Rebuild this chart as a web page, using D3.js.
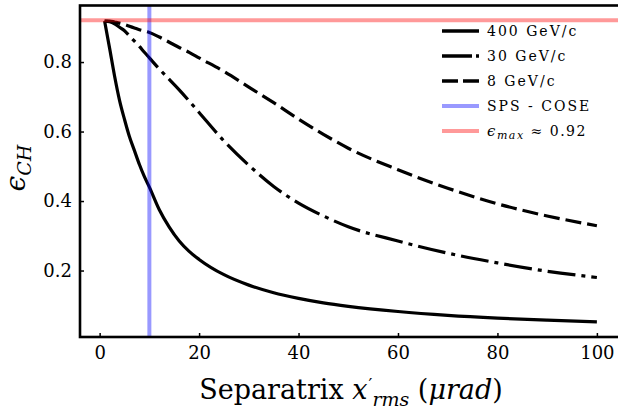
<!DOCTYPE html>
<html>
<script src='https://d3js.org/d3.v7.min.js'></script>
<style>
 body {margin:0; background:white;}
 text {font-family: 'DejaVu Serif', serif; fill: black;}
</style>
<body onload='init()'>
<svg width=618 height=412>
</svg>
<script>

// separatrix divergence (urad) and channeling efficiency per beam energy
const xVals = [1,2,3,4,5,6,7,8,9,10,12,14,16,18,20,25,30,35,40,45,50,60,70,80,90,100];
const e400 = [0.918,0.84,0.76,0.69,0.635,0.585,0.545,0.505,0.47,0.44,0.375,0.325,0.285,0.255,0.232,0.188,0.158,0.136,0.12,0.107,0.097,0.082,0.071,0.063,0.057,0.052];
const e30  = [0.918,0.916,0.91,0.90,0.89,0.875,0.86,0.845,0.828,0.812,0.78,0.75,0.72,0.688,0.655,0.573,0.503,0.442,0.394,0.357,0.326,0.285,0.25,0.222,0.198,0.18];
const e8   = [0.918,0.918,0.915,0.912,0.908,0.903,0.898,0.893,0.889,0.885,0.872,0.857,0.842,0.828,0.812,0.773,0.728,0.683,0.636,0.592,0.552,0.49,0.437,0.392,0.357,0.329];
const spsCose = 10;
const epsMax = 0.92;
const xTicks = [0,20,40,60,80,100];
const yTicks = [0.2,0.4,0.6,0.8];
const legendLabels = ['400 GeV/c','30 GeV/c','8 GeV/c','SPS - COSE'];

function init() {

 var svg = d3.select('svg');

 var x = d3.scaleLinear().domain([-3.95,104.95]).range([80,621.5]);
 var y = d3.scaleLinear().domain([0.0087,0.9613]).range([337,6]);

 svg.append('clipPath').attr('id','clip')
  .append('rect').attr('x',80).attr('y',6).attr('width',541.5).attr('height',331);

 var plot = svg.append('g').attr('clip-path','url(#clip)');

 var line = d3.line().x(function(d){return x(d[0]);}).y(function(d){return y(d[1]);}).curve(d3.curveMonotoneX);

 var series = [
  {v:e8, dash:'16,6'},
  {v:e30, dash:'28,6,4,6'},
  {v:e400, dash:null}
 ];

 series.forEach(function(s){
  plot.append('path')
   .datum(xVals.map(function(d,i){return [d, s.v[i]];}))
   .attr('d', line)
   .attr('fill','none')
   .attr('stroke','black')
   .attr('stroke-width',3.2)
   .attr('stroke-dasharray', s.dash);
 });

 // SPS - COSE marker and max efficiency
 plot.append('line')
  .attr('x1',x(spsCose)).attr('x2',x(spsCose)).attr('y1',0).attr('y2',340)
  .attr('stroke','blue').attr('stroke-opacity',0.4).attr('stroke-width',4);
 plot.append('line')
  .attr('x1',80).attr('x2',618).attr('y1',y(epsMax)).attr('y2',y(epsMax))
  .attr('stroke','red').attr('stroke-opacity',0.4).attr('stroke-width',4);

 // axes, ticks pointing inwards
 var gx = svg.append('g').attr('transform','translate(0,337)')
  .call(d3.axisBottom(x).tickValues(xTicks).tickSize(-4).tickPadding(9));
 var gy = svg.append('g').attr('transform','translate(80,0)')
  .call(d3.axisLeft(y).tickValues(yTicks).tickSize(-4).tickPadding(8).tickFormat(d3.format('.1f')));

 [gx,gy].forEach(function(g){
  g.select('.domain').remove();
  g.selectAll('line').attr('stroke','black').attr('stroke-width',1.5);
  g.selectAll('text').style('font-family',"'DejaVu Serif', serif").style('font-size','18px');
 });

 svg.append('rect').attr('x',80).attr('y',5.5).attr('width',545).attr('height',331.5)
  .attr('fill','none').attr('stroke','black').attr('stroke-width',2.6);

 // axis labels
 var xl = svg.append('text').attr('x',351).attr('y',399).attr('text-anchor','middle').style('font-size','27px');
 xl.append('tspan').text('Separatrix ');
 xl.append('tspan').style('font-style','italic').text('x');
 xl.append('tspan').attr('dx',1).attr('dy',-9).style('font-size','17px').text('\u2032');
 xl.append('tspan').attr('dx',0).attr('dy',16).style('font-size','19px').style('font-style','italic').text('rms');
 xl.append('tspan').attr('dy',-7).text(' (');
 xl.append('tspan').style('font-style','italic').text('\u03bcrad');
 xl.append('tspan').text(')');

 var yl = svg.append('text').attr('transform','translate(25,168) rotate(-90)').attr('text-anchor','middle').style('font-size','28px');
 yl.append('tspan').style('font-style','italic').text('\u03f5');
 yl.append('tspan').attr('dy',6).style('font-size','19px').style('font-style','italic').text('CH');

 // legend
 var lg = svg.append('g');
 var rows = [31,56,81,106,131];
 var styles = [
  {c:'black', o:1, dash:null},
  {c:'black', o:1, dash:'30,4,3,10'},
  {c:'black', o:1, dash:'16,5'},
  {c:'blue', o:0.4, dash:null},
  {c:'red', o:0.4, dash:null}
 ];
 styles.forEach(function(s,i){
  lg.append('line').attr('x1',442).attr('x2',479).attr('y1',rows[i]).attr('y2',rows[i])
   .attr('stroke',s.c).attr('stroke-opacity',s.o).attr('stroke-width',s.c=='black'?3.4:4)
   .attr('stroke-dasharray',s.dash);
 });
 legendLabels.forEach(function(t,i){
  lg.append('text').attr('x',487).attr('y',rows[i]+5).style('font-size','14px').style('letter-spacing','2px').text(t);
 });
 var lt = lg.append('text').attr('x',487).attr('y',rows[4]+5).style('font-size','14px').style('letter-spacing','1.5px');
 lt.append('tspan').style('font-style','italic').style('font-size','15px').text('\u03f5');
 lt.append('tspan').attr('dy',3).style('font-style','italic').style('font-size','11px').text('max');
 lt.append('tspan').attr('dy',-3).text(' \u2248 0.92');

}

</script>
</body>
</html>
